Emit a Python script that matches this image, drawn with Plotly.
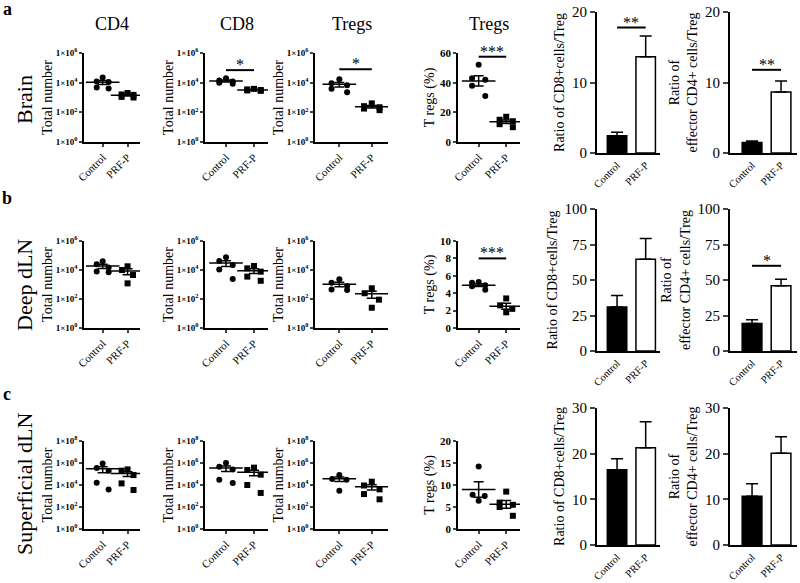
import numpy as np
import plotly.graph_objects as go

W, H = 800, 583

# ---------------- data ----------------
GROUPS = ["Control", "PRF-P"]
ROW_NAMES = ["Brain", "Deep dLN", "Superficial dLN"]
ROW_LETTERS = ["a", "b", "c"]
PANEL_TITLES = ["CD4", "CD8", "Tregs", "Tregs"]

# Brain
brain_cd4_ctrl = [22000, 12000, 11000, 4800, 4000]
brain_cd4_prf = [2000, 1600, 1500, 1100, 1000]
brain_cd8_ctrl = [20000, 14000, 12000, 10000, 8500]
brain_cd8_prf = [3800, 3500, 3200, 3000, 2800]
brain_treg_ctrl = [17000, 9000, 6600, 3900, 2300]
brain_treg_prf = [400, 260, 220, 180, 140]
brain_tregpct_ctrl = [52, 43, 42, 38, 31]
brain_tregpct_prf = [17, 15, 14, 12, 10]
brain_cd8_ratio = [2.45, 13.65]
brain_cd8_ratio_sem = [0.5, 2.95]
brain_eff_ratio = [1.5, 8.65]
brain_eff_ratio_sem = [0.2, 1.55]

# Deep dLN
deep_cd4_ctrl = [40000, 25000, 15000, 8000, 7000]
deep_cd4_prf = [18000, 10000, 4500, 1200]
deep_cd8_ctrl = [75000, 42000, 22000, 11000, 2400]
deep_cd8_prf = [19000, 13000, 7700, 3500, 1800]
deep_treg_ctrl = [2300, 1300, 800, 450, 420]
deep_treg_prf = [550, 250, 90, 25]
deep_tregpct_ctrl = [5.3, 5.2, 4.9, 4.8, 4.4]
deep_tregpct_prf = [3.4, 2.6, 2.2, 1.8]
deep_cd8_ratio = [31.0, 64.7]
deep_cd8_ratio_sem = [8.0, 14.6]
deep_eff_ratio = [19.3, 45.9]
deep_eff_ratio_sem = [2.7, 4.7]

# Superficial dLN
sup_cd4_ctrl = [900000, 350000, 200000, 16000, 4000]
sup_cd4_prf = [260000, 200000, 80000, 14000, 3500]
sup_cd8_ctrl = [1000000, 450000, 250000, 30000, 15000]
sup_cd8_prf = [380000, 230000, 87000, 10000, 1900]
sup_treg_ctrl = [80000, 35000, 30000, 3000]
sup_treg_prf = [20000, 9000, 4000, 1500, 500]
sup_tregpct_ctrl = [14.2, 7.8, 7.5, 6.4]
sup_tregpct_prf = [8.5, 6.0, 5.5, 5.0, 3.0]
sup_cd8_ratio = [16.5, 21.3]
sup_cd8_ratio_sem = [2.4, 5.7]
sup_eff_ratio = [10.7, 20.1]
sup_eff_ratio_sem = [2.7, 3.6]

SCATTER = [
    [(brain_cd4_ctrl, brain_cd4_prf), (brain_cd8_ctrl, brain_cd8_prf),
     (brain_treg_ctrl, brain_treg_prf), (brain_tregpct_ctrl, brain_tregpct_prf)],
    [(deep_cd4_ctrl, deep_cd4_prf), (deep_cd8_ctrl, deep_cd8_prf),
     (deep_treg_ctrl, deep_treg_prf), (deep_tregpct_ctrl, deep_tregpct_prf)],
    [(sup_cd4_ctrl, sup_cd4_prf), (sup_cd8_ctrl, sup_cd8_prf),
     (sup_treg_ctrl, sup_treg_prf), (sup_tregpct_ctrl, sup_tregpct_prf)],
]
RATIOS = [
    [(brain_cd8_ratio, brain_cd8_ratio_sem), (brain_eff_ratio, brain_eff_ratio_sem)],
    [(deep_cd8_ratio, deep_cd8_ratio_sem), (deep_eff_ratio, deep_eff_ratio_sem)],
    [(sup_cd8_ratio, sup_cd8_ratio_sem), (sup_eff_ratio, sup_eff_ratio_sem)],
]

LOG_MAX = [6, 6, 8]
PCT_TICKS = [[0, 20, 40, 60], [0, 2, 4, 6, 8, 10], [0, 5, 10, 15, 20]]
RATIO_TICKS = [[0, 10, 20], [0, 25, 50, 75, 100], [0, 10, 20, 30]]

# (row, panel, level, label)
SIG = [
    (0, 1, 7e4, "*"),
    (0, 2, 8e4, "*"),
    (0, 3, 57.5, "***"),
    (0, 4, 17.8, "**"),
    (0, 5, 11.8, "**"),
    (1, 3, 8.0, "***"),
    (1, 5, 60, "*"),
]

# ---------------- layout geometry (pixels) ----------------
SCATTER_X = [(84, 140), (205, 268), (315, 388), (458, 520)]
RATIO_X = [(597, 660), (730, 797)]
RATIO_XRANGE = [[-0.7, 1.5], [-0.76, 1.55]]
ROW_SCATTER_Y = [(53, 142), (241, 328), (441, 529)]
ROW_RATIO_Y = [(12, 153), (209, 351), (408, 545)]
ROW_LABEL_Y = [100, 285, 484]
LETTER_Y = [9, 198, 394]
JITTER = {5: [0, -0.24, 0.24, -0.24, 0.24], 4: [0, -0.22, 0.22, 0]}

FONT = "Liberation Serif"


def dx(a, b):
    return [a / W, b / W]


def dy(top, bot):
    return [1 - bot / H, 1 - top / H]


def names(k):
    if k == 1:
        return "xaxis", "yaxis", "x", "y"
    return f"xaxis{k}", f"yaxis{k}", f"x{k}", f"y{k}"


fig = go.Figure()
layout = dict(
    width=W, height=H, margin=dict(l=0, r=0, t=0, b=0, pad=0, autoexpand=False),
    paper_bgcolor="white", plot_bgcolor="white", showlegend=False,
    font=dict(family=FONT, color="black"),
)
annotations = []
shapes = []
axis_map = {}

for r in range(3):
    for p in range(6):
        k = r * 6 + p + 1
        xa, ya, xr, yr = names(k)
        axis_map[(r, p)] = (xr, yr, p < 3)
        if p < 4:
            ctrl, prf = SCATTER[r][p]
            for gi, (vals, sym) in enumerate([(ctrl, "circle"), (prf, "square")]):
                n = len(vals)
                xs = [gi + JITTER[n][i] for i in range(n)]
                fig.add_trace(go.Scatter(
                    x=xs, y=vals, mode="markers", xaxis=xr, yaxis=yr,
                    marker=dict(symbol=sym, size=6, color="black"), hoverinfo="skip"))
                m = float(np.mean(vals))
                s = float(np.std(vals, ddof=1) / np.sqrt(n))
                fig.add_trace(go.Scatter(
                    x=[gi], y=[m], mode="markers", xaxis=xr, yaxis=yr,
                    marker=dict(symbol="line-ew", size=24, color="black",
                                line=dict(width=1.5, color="black")),
                    error_y=dict(type="data", array=[s], color="black", thickness=1.5, width=5),
                    hoverinfo="skip"))
            x0, x1 = SCATTER_X[p]
            t, b = ROW_SCATTER_Y[r]
            layout[xa] = dict(
                domain=dx(x0, x1), anchor=yr, range=[-0.75, 1.5], automargin=False,
                tickvals=[0, 1], ticktext=GROUPS, tickangle=-45,
                ticks="outside", ticklen=3, tickwidth=1.5, showline=True, linewidth=1.5,
                linecolor="black", showgrid=False, zeroline=False,
                tickfont=dict(size=11, family=FONT))
            if p < 3:
                exps = list(range(0, LOG_MAX[r] + 1, 2))
                layout[ya] = dict(
                    domain=dy(t, b), anchor=xr, type="log", range=[0, LOG_MAX[r]],
                    automargin=False,
                    tickvals=[10 ** e for e in exps],
                    ticktext=[f"1×10<sup>{e}</sup>" for e in exps],
                    ticks="outside", ticklen=3, tickwidth=1.5, showline=True, linewidth=1.5,
                    linecolor="black", showgrid=False, zeroline=False,
                    tickfont=dict(size=9, family=FONT, weight="bold"),
                    title=dict(text="Total number", font=dict(size=14, family=FONT), standoff=0))
            else:
                ticks = PCT_TICKS[r]
                layout[ya] = dict(
                    domain=dy(t, b), anchor=xr, range=[0, ticks[-1]], automargin=False,
                    tickvals=ticks, ticks="outside", ticklen=3, tickwidth=1.5,
                    showline=True, linewidth=1.5, linecolor="black",
                    showgrid=False, zeroline=False,
                    tickfont=dict(size=11, family=FONT, weight="bold"),
                    title=dict(text="T regs (%)", font=dict(size=14, family=FONT), standoff=2))
        else:
            q = p - 4
            means, sems = RATIOS[r][q]
            fig.add_trace(go.Bar(
                x=[0, 1], y=means, width=0.68, xaxis=xr, yaxis=yr,
                marker=dict(color=["black", "white"], line=dict(color="black", width=1.5)),
                error_y=dict(type="data", symmetric=False, array=sems, arrayminus=[0, 0],
                             color="black", thickness=1.5, width=6),
                hoverinfo="skip"))
            x0, x1 = RATIO_X[q]
            t, b = ROW_RATIO_Y[r]
            ticks = RATIO_TICKS[r]
            ttl = "Ratio of CD8+cells/Treg" if q == 0 else "Ratio of<br>effector CD4+ cells/Treg"
            layout[xa] = dict(
                domain=dx(x0, x1), anchor=yr, range=RATIO_XRANGE[q], automargin=False,
                tickvals=[0, 1], ticktext=GROUPS, tickangle=-45,
                ticks="", showline=True, linewidth=2,
                linecolor="black", showgrid=False, zeroline=False,
                tickfont=dict(size=10.5, family=FONT))
            layout[ya] = dict(
                domain=dy(t, b), anchor=xr, range=[0, ticks[-1]], tickvals=ticks,
                automargin=False,
                ticks="outside", ticklen=5, tickwidth=2, showline=True, linewidth=2,
                linecolor="black", showgrid=False, zeroline=False,
                tickfont=dict(size=15, family=FONT),
                title=dict(text=ttl, font=dict(size=14, family=FONT), standoff=4))

# significance bars (shapes use data values; annotations use log10 on log axes)
for (r, p, lvl, txt) in SIG:
    xr, yr, is_log = axis_map[(r, p)]
    ya_ann = float(np.log10(lvl)) if is_log else lvl
    shapes.append(dict(type="line", xref=xr, yref=yr, x0=0, x1=1, y0=lvl, y1=lvl,
                       line=dict(color="black", width=2)))
    annotations.append(dict(xref=xr, yref=yr, x=0.5, y=ya_ann, text=txt, showarrow=False,
                            yanchor="bottom", yshift=-5, font=dict(size=16, family=FONT)))

# panel titles (row a only)
for p, ttl in enumerate(PANEL_TITLES):
    x0, x1 = SCATTER_X[p]
    annotations.append(dict(xref="paper", yref="paper", x=(x0 + x1) / 2 / W, y=1 - 24 / H,
                            xanchor="center", yanchor="middle",
                            text=ttl, showarrow=False, font=dict(size=18, family=FONT)))

# row labels and letters
for r in range(3):
    annotations.append(dict(xref="paper", yref="paper", x=24 / W, y=1 - ROW_LABEL_Y[r] / H,
                            xanchor="center", yanchor="middle",
                            text=ROW_NAMES[r], textangle=-90, showarrow=False,
                            font=dict(size=22, family=FONT)))
    annotations.append(dict(xref="paper", yref="paper", x=7 / W, y=1 - LETTER_Y[r] / H,
                            xanchor="center", yanchor="middle",
                            text=ROW_LETTERS[r], showarrow=False,
                            font=dict(size=18, family=FONT, weight="bold")))

layout["annotations"] = annotations
layout["shapes"] = shapes
fig.update_layout(**layout)
fig.write_html("out.html", config={"displayModeBar": False},
               post_script="document.body.style.margin='0px';document.body.style.overflow='hidden';")
